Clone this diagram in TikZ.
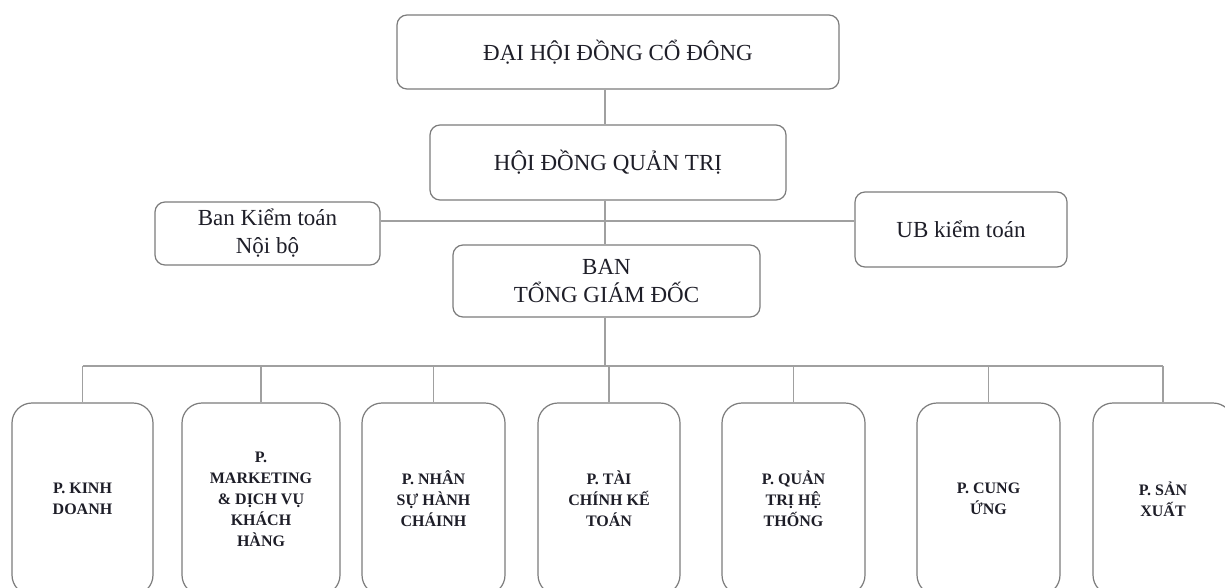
\documentclass[tikz,border=0pt]{standalone}
\usepackage{fontspec}
\setmainfont{Liberation Serif}
\definecolor{edge}{HTML}{7C7C7C}
\definecolor{wire}{HTML}{A0A0A0}
\definecolor{ink}{HTML}{1E1E28}
\begin{document}
\begin{tikzpicture}[x=1pt,y=-1pt,
  upbox/.style={draw=edge, line width=1.2pt, rounded corners=10pt, align=center, text=ink,
    font=\fontsize{23}{28}\selectfont, inner sep=0pt},
  deptbox/.style={draw=edge, line width=1.2pt, rounded corners=20pt, align=center, text=ink,
    font=\fontsize{16}{21}\selectfont\bfseries, inner sep=0pt, minimum height=192pt},
  wireline/.style={draw=wire, line width=1.1pt}]
\useasboundingbox[fill=white] (0,0) rectangle (1225,587);

\node[upbox, minimum width=442pt, minimum height=74pt] (dhcd) at (618,52) {ĐẠI HỘI ĐỒNG CỔ ĐÔNG};
\node[upbox, minimum width=356pt, minimum height=75pt] (hdqt) at (608,162.5) {HỘI ĐỒNG QUẢN TRỊ};
\node[upbox, minimum width=225pt, minimum height=63pt] (bkt) at (267.5,233.5) {Ban Kiểm toán\\Nội bộ};
\node[upbox, minimum width=212pt, minimum height=75pt] (ubkt) at (961,229.5) {UB kiểm toán};
\node[upbox, minimum width=307pt, minimum height=72pt] (btgd) at (606.5,281) {BAN\\TỔNG GIÁM ĐỐC};

\node[deptbox, minimum width=141pt] (d1) at (82.5,499) {P. KINH\\DOANH};
\node[deptbox, minimum width=158pt] (d2) at (261,499) {P.\\MARKETING\\\& DỊCH VỤ\\KHÁCH\\HÀNG};
\node[deptbox, minimum width=143pt] (d3) at (433.5,499) {P. NHÂN\\SỰ HÀNH\\CHÁINH};
\node[deptbox, minimum width=142pt] (d4) at (609,499) {P. TÀI\\CHÍNH KẾ\\TOÁN};
\node[deptbox, minimum width=143pt] (d5) at (793.5,499) {P. QUẢN\\TRỊ HỆ\\THỐNG};
\node[deptbox, minimum width=143pt] (d6) at (988.5,499) {P. CUNG\\ỨNG};
\node[deptbox, minimum width=140pt] (d7) at (1163,499) {P. SẢN\\XUẤT};

\coordinate (spine) at (605,221);
\coordinate (bus) at (605,366);

\path[wireline] (dhcd.south -| spine) -- (hdqt.north -| spine);
\path[wireline] (hdqt.south -| spine) -- (btgd.north -| spine);
\path[wireline] (bkt.east |- spine) -- (ubkt.west |- spine);
\path[wireline] (btgd.south -| spine) -- (bus);
\path[wireline] (d1.north |- bus) -- (d7.north |- bus);
\foreach \d in {d1,d2,d3,d4,d5,d6,d7}
  \path[wireline] (\d.north |- bus) -- (\d.north);
\end{tikzpicture}
\end{document}
